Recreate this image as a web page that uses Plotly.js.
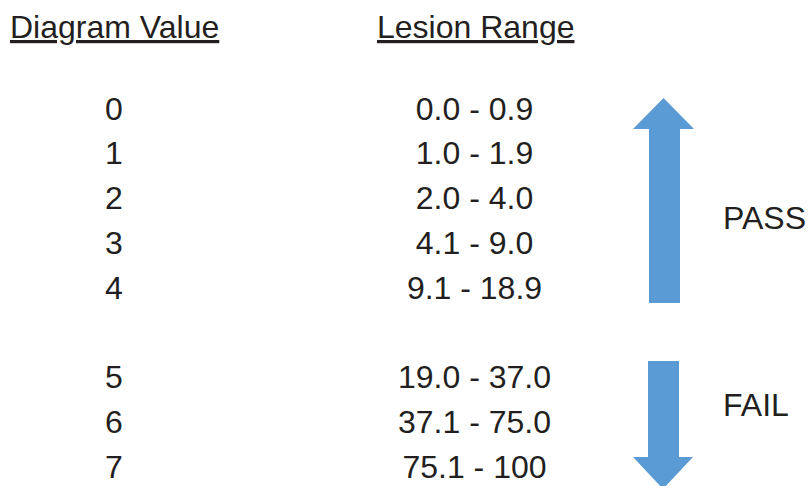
<!DOCTYPE html>
<html>
<head>
<meta charset="utf-8">
<script src="https://cdn.plot.ly/plotly-3.0.1.min.js"></script>
<style>html,body{margin:0;padding:0;background:#fff;}#chart{width:809px;height:486px;}</style>
</head>
<body>
<div id="chart"></div>
<script>
// ---- data ----
var headers = ["Diagram Value", "Lesion Range"];
var diagramValues = ["0", "1", "2", "3", "4", "5", "6", "7"];
var lesionRanges = ["0.0 - 0.9", "1.0 - 1.9", "2.0 - 4.0", "4.1 - 9.0", "9.1 - 18.9",
                    "19.0 - 37.0", "37.1 - 75.0", "75.1 - 100"];
var rowSlots = [0, 1, 2, 3, 4, 6, 7, 8];
var groupLabels = ["PASS", "FAIL"];
var groupRows = [2.46, 6.64];

// ---- layout constants ----
var colX = [114, 474.5];
var textDy = 0.08;
var textColor = "#231f20";
var arrowColor = "#5b9bd5";
var font = {family: "Liberation Sans, Arial, sans-serif", size: 32, color: textColor};

var rowY = rowSlots.map(function(r){ return r + textDy; });
var traces = [
  {x: rowSlots.map(function(){return colX[0];}), y: rowY, text: diagramValues,
   mode: "text", type: "scatter", textfont: font, hoverinfo: "none", cliponaxis: false},
  {x: rowSlots.map(function(){return colX[1];}), y: rowY, text: lesionRanges,
   mode: "text", type: "scatter", textfont: font, hoverinfo: "none", cliponaxis: false}
];

var annotations = [];
var hdrX = [8, 375];
headers.forEach(function(h, i){
  annotations.push({x: hdrX[i], y: -1.80, xref: "x", yref: "y", text: "<u>" + h + "</u>",
    showarrow: false, xanchor: "left", yanchor: "middle", font: font});
});
groupLabels.forEach(function(g, i){
  annotations.push({x: 721, y: groupRows[i], xref: "x", yref: "y", text: g,
    showarrow: false, xanchor: "left", yanchor: "middle", font: font});
});

// arrows (in row units for y)
function rowOf(px){ return (px - 108) / 44.75; }
var upPath = "M 649," + rowOf(303) + " L 649," + rowOf(129) + " L 633," + rowOf(129) +
  " L 663.5," + rowOf(98) + " L 694," + rowOf(129) + " L 680," + rowOf(129) +
  " L 680," + rowOf(303) + " Z";
var downPath = "M 648," + rowOf(361) + " L 648," + rowOf(457) + " L 633," + rowOf(457) +
  " L 663," + rowOf(489) + " L 693," + rowOf(457) + " L 679," + rowOf(457) +
  " L 679," + rowOf(361) + " Z";
var shapes = [
  {type: "path", xref: "x", yref: "y", path: upPath, fillcolor: arrowColor, line: {width: 0}},
  {type: "path", xref: "x", yref: "y", path: downPath, fillcolor: arrowColor, line: {width: 0}}
];

var layout = {
  width: 809, height: 486,
  margin: {l: 0, r: 0, t: 0, b: 0},
  paper_bgcolor: "#fff", plot_bgcolor: "#fff",
  showlegend: false,
  xaxis: {range: [0, 809], visible: false, fixedrange: true},
  yaxis: {range: [rowOf(486), rowOf(0)], visible: false, fixedrange: true},
  annotations: annotations,
  shapes: shapes
};

Plotly.newPlot("chart", traces, layout, {staticPlot: true, displayModeBar: false});
</script>
</body>
</html>
